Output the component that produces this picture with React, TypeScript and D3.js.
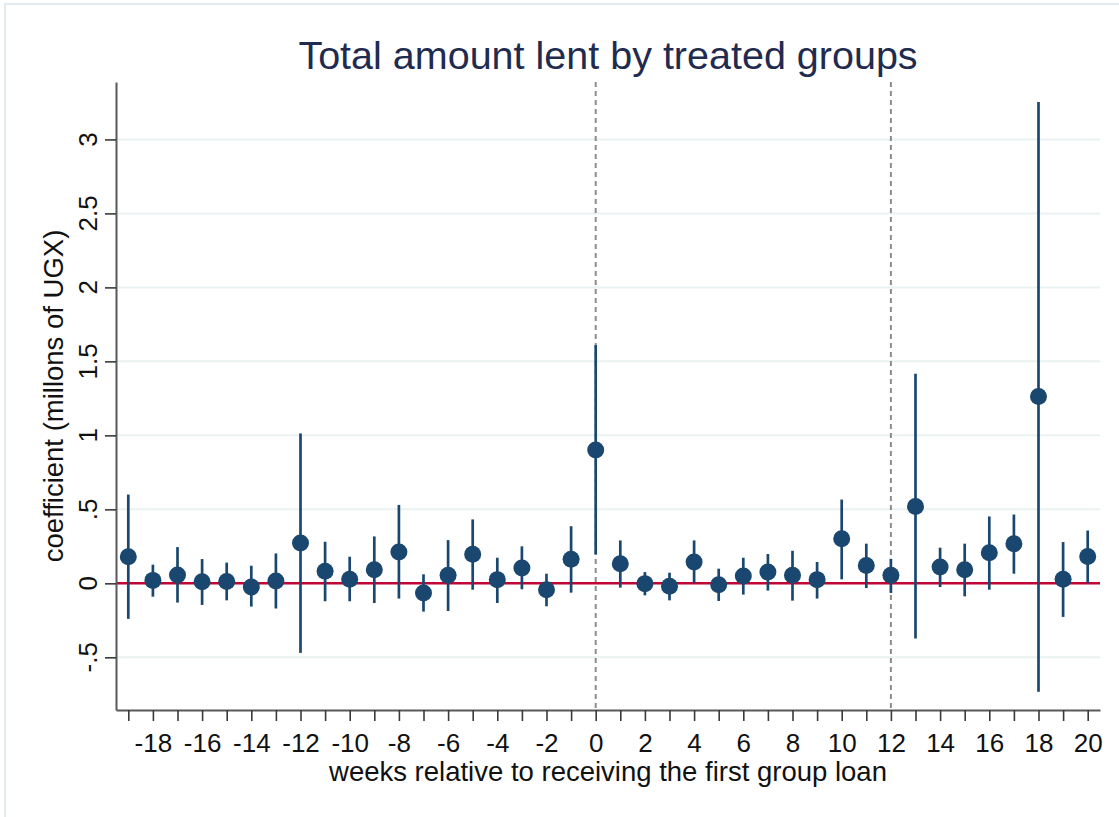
import { useEffect, useRef } from "react";
import * as d3 from "d3";

// weeks relative to first group loan
const weeks = [
  -19, -18, -17, -16, -15, -14, -13, -12, -11, -10, -9, -8, -7, -6, -5, -4, -3,
  -2, -1, 0, 1, 2, 3, 4, 5, 6, 7, 8, 9, 10, 11, 12, 13, 14, 15, 16, 17, 18, 19,
  20,
];

const coef = [
  0.18, 0.02, 0.056, 0.011, 0.013, -0.025, 0.016, 0.272, 0.081, 0.027, 0.092,
  0.211, -0.065, 0.054, 0.196, 0.025, 0.103, -0.043, 0.162, 0.901, 0.133,
  -0.002, -0.02, 0.144, -0.009, 0.049, 0.076, 0.054, 0.025, 0.301, 0.121, 0.054,
  0.519, 0.11, 0.092, 0.207, 0.268, 1.263, 0.027, 0.182,
];

const ciUpper = [
  0.6, 0.126, 0.245, 0.164, 0.14, 0.119, 0.202, 1.013, 0.281, 0.18, 0.317, 0.53,
  0.061, 0.292, 0.432, 0.173, 0.25, 0.065, 0.386, 1.61, 0.29, 0.076, 0.072, 0.29,
  0.099, 0.173, 0.198, 0.22, 0.144, 0.566, 0.268, 0.166, 1.416, 0.241, 0.268,
  0.452, 0.465, 3.252, 0.279, 0.357,
];

const ciLower = [
  -0.24, -0.09, -0.13, -0.146, -0.115, -0.157, -0.17, -0.47, -0.121, -0.121,
  -0.133, -0.103, -0.191, -0.187, -0.043, -0.133, -0.04, -0.155, -0.063, 0.196,
  -0.029, -0.081, -0.115, 0.002, -0.119, -0.076, -0.049, -0.117, -0.103, 0.027,
  -0.032, -0.065, -0.373, -0.025, -0.088, -0.043, 0.065, -0.733, -0.227, 0.002,
];

const yTicks = [3, 2.5, 2, 1.5, 1, 0.5, 0, -0.5];
const yTickLabels = ["3", "2.5", "2", "1.5", "1", ".5", "0", "-.5"];
const refLines = [0, 12];

const W = 1119;
const H = 817;
const FONT = "'Liberation Sans', Arial, sans-serif";
const NAVY = "#1a476f";

export default function App() {
  const svgRef = useRef<SVGSVGElement>(null);

  useEffect(() => {
    if (!svgRef.current) return;
    const svg = d3.select(svgRef.current);
    svg.selectAll("*").remove();

    const left = 116;
    const right = 1100;
    const top = 82;
    const bottom = 710;

    const x = d3.scaleLinear().domain([-19.5, 20.5]).range([left, right]);
    const y = d3.scaleLinear().domain([-0.856, 3.388]).range([bottom, top]);

    // outer frame (cropped page)
    svg
      .append("path")
      .attr("d", `M5,${H} L5,4 L${W},4`)
      .attr("fill", "none")
      .attr("stroke", "#e4ebef")
      .attr("stroke-width", 2);

    // gridlines
    svg
      .append("g")
      .selectAll("line")
      .data(yTicks)
      .enter()
      .append("line")
      .attr("x1", left)
      .attr("x2", right)
      .attr("y1", (d) => y(d))
      .attr("y2", (d) => y(d))
      .attr("stroke", "#eaf1f2")
      .attr("stroke-width", 2);

    // zero line
    svg
      .append("line")
      .attr("x1", left)
      .attr("x2", right)
      .attr("y1", y(0))
      .attr("y2", y(0))
      .attr("stroke", "#c10534")
      .attr("stroke-width", 2.5);

    // vertical dashed reference lines
    svg
      .append("g")
      .selectAll("line")
      .data(refLines)
      .enter()
      .append("line")
      .attr("x1", (d) => x(d))
      .attr("x2", (d) => x(d))
      .attr("y1", top)
      .attr("y2", bottom)
      .attr("stroke", "#8c8c8c")
      .attr("stroke-width", 2)
      .attr("stroke-dasharray", "5,4");

    // x axis
    const xAxis = d3
      .axisBottom(x)
      .tickValues(weeks)
      .tickSize(11)
      .tickSizeOuter(0)
      .tickPadding(13)
      .tickFormat((d: any) => (d % 2 === 0 ? String(d) : ""));

    const gx = svg
      .append("g")
      .attr("transform", `translate(0,${bottom})`)
      .call(xAxis as any);
    gx.select(".domain").attr("stroke", "#595959").attr("stroke-width", 2);
    gx.selectAll(".tick line").attr("stroke", "#3a3a3a").attr("stroke-width", 1.6);
    gx.selectAll(".tick text")
      .style("font-family", FONT)
      .style("font-size", "26px")
      .attr("fill", "#111");

    // y axis
    const yAxis = d3
      .axisLeft(y)
      .tickValues(yTicks)
      .tickSize(11)
      .tickSizeOuter(0)
      .tickFormat(() => "");
    const gy = svg
      .append("g")
      .attr("transform", `translate(${left},0)`)
      .call(yAxis as any);
    gy.select(".domain").attr("stroke", "#595959").attr("stroke-width", 2);
    gy.selectAll(".tick line").attr("stroke", "#3a3a3a").attr("stroke-width", 1.6);

    svg
      .append("g")
      .selectAll("text")
      .data(yTicks)
      .enter()
      .append("text")
      .attr("transform", (d) => `translate(97,${y(d)}) rotate(-90)`)
      .attr("text-anchor", "middle")
      .style("font-family", FONT)
      .style("font-size", "26px")
      .attr("fill", "#111")
      .text((_, i) => yTickLabels[i]);

    // confidence intervals
    const pts = weeks.map((w, i) => ({
      w,
      c: coef[i],
      lo: ciLower[i],
      hi: ciUpper[i],
    }));

    svg
      .append("g")
      .selectAll("line")
      .data(pts)
      .enter()
      .append("line")
      .attr("x1", (d) => x(d.w))
      .attr("x2", (d) => x(d.w))
      .attr("y1", (d) => y(d.lo))
      .attr("y2", (d) => y(d.hi))
      .attr("stroke", NAVY)
      .attr("stroke-width", 2.7);

    svg
      .append("g")
      .selectAll("circle")
      .data(pts)
      .enter()
      .append("circle")
      .attr("cx", (d) => x(d.w))
      .attr("cy", (d) => y(d.c))
      .attr("r", 8.5)
      .attr("fill", NAVY);

    // titles
    svg
      .append("text")
      .attr("x", (left + right) / 2)
      .attr("y", 69)
      .attr("text-anchor", "middle")
      .style("font-family", FONT)
      .style("font-size", "39.5px")
      .attr("fill", "#1f2b4f")
      .text("Total amount lent by treated groups");

    svg
      .append("text")
      .attr("x", (left + right) / 2)
      .attr("y", 781)
      .attr("text-anchor", "middle")
      .style("font-family", FONT)
      .style("font-size", "27.5px")
      .attr("fill", "#111")
      .text("weeks relative to receiving the first group loan");

    svg
      .append("text")
      .attr("transform", `translate(63,${(top + bottom) / 2}) rotate(-90)`)
      .attr("text-anchor", "middle")
      .style("font-family", FONT)
      .style("font-size", "27.5px")
      .attr("fill", "#111")
      .text("coefficient (millons of UGX)");
  }, []);

  return (
    <svg
      ref={svgRef}
      width={W}
      height={H}
      viewBox={`0 0 ${W} ${H}`}
      style={{ position: "absolute", left: 0, top: 0, background: "#fff" }}
    />
  );
}
